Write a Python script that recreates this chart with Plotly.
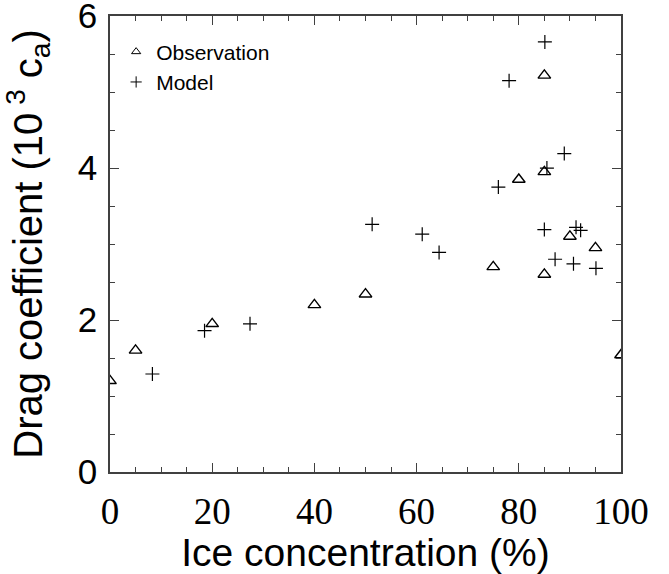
import plotly.graph_objects as go

# Observation (triangles)
obs_x = [0, 5, 20, 40, 50, 75, 80, 85, 85, 85, 90, 95, 100]
obs_y = [1.20, 1.60, 1.95, 2.20, 2.34, 2.70, 3.85, 5.22, 3.95, 2.60, 3.10, 2.95, 1.54]

# Model (crosses)
mod_x = [8.3, 18.5, 27.4, 51.3, 61.1, 64.4, 76.0, 78.1, 85.1, 85.5, 88.9, 85.0, 87.1, 90.7, 91.2, 92.1, 95.1]
mod_y = [1.29, 1.86, 1.95, 3.26, 3.13, 2.89, 3.75, 5.15, 5.66, 4.00, 4.19, 3.19, 2.80, 2.74, 3.22, 3.18, 2.68]

x_ticks = [0, 20, 40, 60, 80, 100]
y_ticks = [0, 2, 4, 6]

fig = go.Figure()
fig.add_trace(go.Scatter(x=obs_x, y=obs_y, mode="markers", showlegend=False,
                         marker=dict(symbol="triangle-up-open", size=11, color="black",
                                     line=dict(width=1.4, color="black"))))
fig.add_trace(go.Scatter(x=mod_x, y=mod_y, mode="markers", showlegend=False,
                         marker=dict(symbol="cross-thin-open", size=10, color="black",
                                     line=dict(width=1.2, color="black"))))
# legend entries
fig.add_trace(go.Scatter(x=[None], y=[None], mode="markers", name="Observation",
                         marker=dict(symbol="triangle-up-open", size=8, color="black",
                                     line=dict(width=1, color="black"))))
fig.add_trace(go.Scatter(x=[None], y=[None], mode="markers", name="Model",
                         marker=dict(symbol="cross-thin-open", size=8, color="black",
                                     line=dict(width=1, color="black"))))

axis_common = dict(showgrid=False, zeroline=False, showline=True, linecolor="#404040",
                   linewidth=1.5, mirror="ticks", ticks="inside", tickcolor="#404040",
                   tickwidth=1.3, ticklen=9)

fig.update_xaxes(range=[0, 100], tickvals=x_ticks, ticktext=[str(v) for v in x_ticks],
                 tickfont=dict(family="Liberation Serif", size=37, color="black"),
                 ticklabelstandoff=6,
                 minor=dict(dtick=5, ticks="inside", ticklen=5, tickcolor="#404040", tickwidth=1.2),
                 title=dict(text="Ice concentration (%)", standoff=10,
                            font=dict(family="Liberation Sans", size=39, color="black")),
                 **axis_common)
fig.update_yaxes(range=[0, 6.001], tickvals=y_ticks, ticktext=[str(v) for v in y_ticks],
                 tickfont=dict(family="Liberation Sans", size=35, color="black"),
                 ticklabelstandoff=4, ticklabeloverflow="allow",
                 minor=dict(dtick=0.5, ticks="inside", ticklen=5, tickcolor="#404040", tickwidth=1.2),
                 title=dict(text="Drag coefficient (10<sup> 3</sup> c<sub>a</sub>)", standoff=26,
                            font=dict(family="Liberation Sans", size=40, color="black")),
                 **axis_common)

fig.update_layout(
    width=669, height=574,
    margin=dict(l=110, r=48, t=16, b=102, autoexpand=False),
    paper_bgcolor="white", plot_bgcolor="white",
    legend=dict(x=0.012, y=0.966, xanchor="left", yanchor="top", bgcolor="rgba(0,0,0,0)",
                font=dict(family="Liberation Sans", size=21, color="black"),
                itemwidth=30, tracegroupgap=0),
)

fig.write_html("out.html")
